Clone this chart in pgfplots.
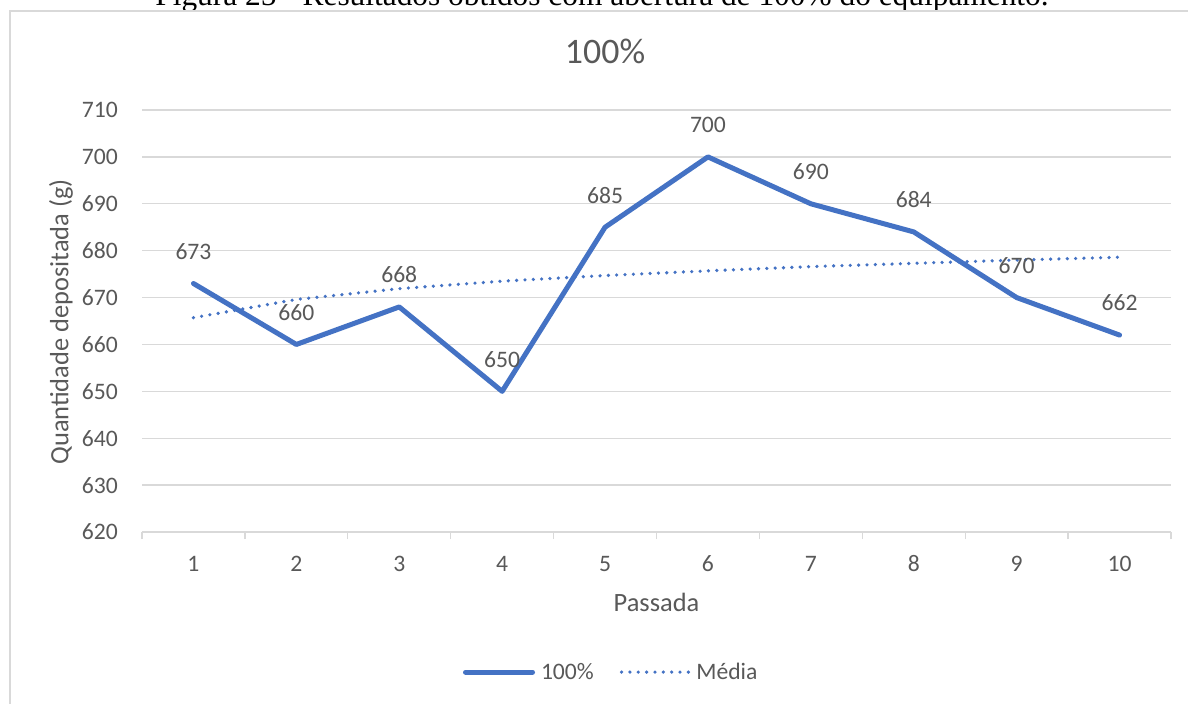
\documentclass[border=0pt]{standalone}
\usepackage{pgfplots}
\pgfplotsset{compat=1.18}
\usepackage{fontspec}
\setmainfont{Carlito}
\newfontfamily\capfont{Liberation Serif}
\definecolor{exblue}{HTML}{4472C4}
\definecolor{txtgray}{HTML}{595959}
\definecolor{gridgray}{HTML}{D9D9D9}
\begin{document}
\begin{tikzpicture}
\useasboundingbox (0,0) rectangle (1188bp,-704bp);
\clip (0,0) rectangle (1188bp,-704bp);
\fill[white] (0,0) rectangle (1188bp,-704bp);
\node[anchor=base, inner sep=0pt, font=\capfont\fontsize{31.5}{34}\selectfont] at (602bp,-5bp) {Figura 25 - Resultados obtidos com abertura de 100\% do equipamento.};
\draw[gridgray, line width=1.3bp] (10bp,-760bp) -- (10bp,-11bp) -- (1250bp,-11bp);
\begin{axis}[
  at={(142bp,-532bp)}, anchor=south west,
  scale only axis, width=1029bp, height=422bp,
  xmin=0.5, xmax=10.5, ymin=620, ymax=710,
  xtick={1,...,10}, ytick={620,630,...,710},
  minor xtick={0.5,1.5,...,10.5},
  major tick length=0pt, minor tick length=7bp, tick align=outside,
  axis x line*=bottom, axis y line*=left,
  y axis line style={draw=none},
  x axis line style={gridgray, line width=1.3bp},
  ymajorgrids, xmajorgrids=false, xminorgrids=false,
  grid style={gridgray, line width=1.3bp},
  minor tick style={gridgray, line width=1.3bp},
  major tick style={draw=none},
  /pgf/number format/assume math mode=true,
  ticklabel style={font=\fontsize{23.7}{26}\selectfont, text=txtgray},
  yticklabel style={anchor=east, inner sep=0pt, xshift=-24bp},
  xticklabel style={anchor=center, inner sep=0pt, yshift=-32bp},
  title={100\%},
  title style={at={(axis description cs:0.45,1.1256)}, anchor=center, font=\fontsize{36}{40}\selectfont, text=txtgray},
  xlabel={Passada},
  xlabel style={at={(axis description cs:0.5,-0.166)}, anchor=center, font=\fontsize{26.5}{30}\selectfont, text=txtgray},
  ylabel={Quantidade depositada (g)},
  ylabel style={at={(axis description cs:-0.0787,0.498)}, anchor=center, font=\fontsize{26.5}{30}\selectfont, text=txtgray},
  legend columns=2,
  legend style={at={(axis description cs:0.456,-0.332)}, anchor=center, draw=none, fill=none,
    font=\fontsize{23.7}{26}\selectfont, text=txtgray,
    /tikz/every odd column/.append style={column sep=4bp},
    /tikz/every even column/.append style={column sep=24bp}},
  legend cell align=left,
  legend image code/.code={\draw[#1] (0bp,0bp) -- (67bp,0bp);},
  clip=false,
]
\addplot[exblue, line width=5bp, line join=round, line cap=round,
  nodes near coords,
  every node near coord/.append style={font=\fontsize{23.7}{26}\selectfont, text=txtgray, anchor=center, yshift=32bp}]
  coordinates {(1,673) (2,660) (3,668) (4,650) (5,685) (6,700) (7,690) (8,684) (9,670) (10,662)};
\addlegendentry{100\%}
\addplot[exblue, line width=3.6bp, line cap=round, dash pattern=on 0bp off 8.35bp]
  coordinates {(1,665.7) (2,669.6) (3,671.9) (4,673.5) (5,674.7) (6,675.7) (7,676.6) (8,677.3) (9,678.0) (10,678.6)};
\addlegendentry{Média}
\end{axis}
\end{tikzpicture}
\end{document}
